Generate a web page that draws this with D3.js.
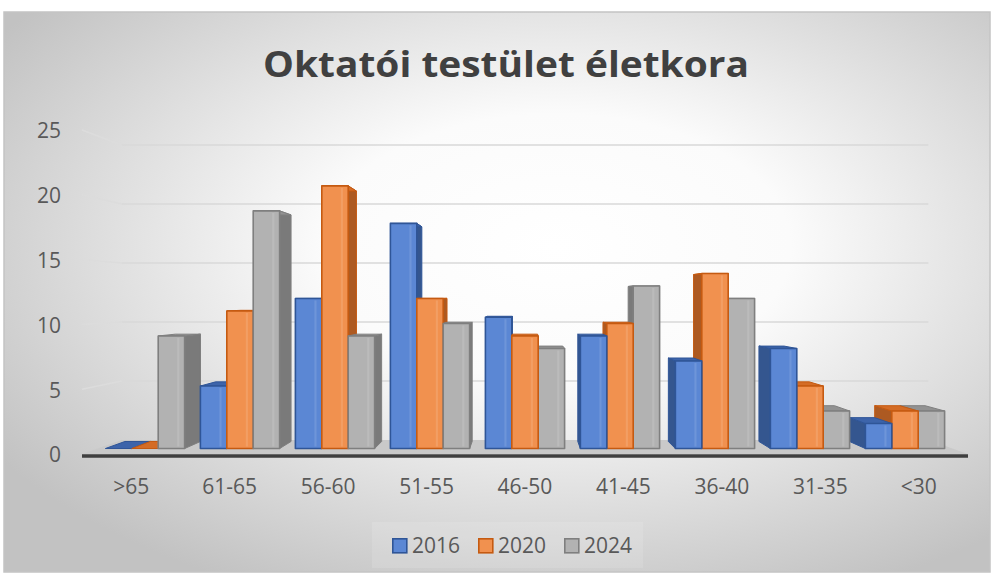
<!DOCTYPE html>
<html><head><meta charset="utf-8">
<script src="https://cdn.jsdelivr.net/npm/d3@7"></script>
<style>html,body{margin:0;padding:0;background:#fff;}svg{display:block;}</style>
</head><body>
<script>
const title = "Oktatói testület életkora";
const categories = [">65","61-65","56-60","51-55","46-50","41-45","36-40","31-35","<30"];
const seriesNames = ["2016","2020","2024"];
const values2016 = [0,5,12,18,10.5,9,7,8,2];
const values2020 = [0,11,21,12,9,10,14,5,3];
const values2024 = [9,19,9,10,8,13,12,3,3];
const yTicks = [0,5,10,15,20,25];

const seriesValues = [values2016, values2020, values2024];
const colors = [
  {front:"#5b87d4", stroke:"#2f5597", side:"#34568f", top:"#3d64aa"},
  {front:"#f1914f", stroke:"#c55a11", side:"#ad5a22", top:"#d46c26"},
  {front:"#b2b2b2", stroke:"#7f7f7f", side:"#7a7a7a", top:"#929292"}
];

const W = 995, H = 577;
const svg = d3.select("body").append("svg").attr("width", W).attr("height", H);
const defs = svg.append("defs");
const grad = defs.append("radialGradient").attr("id","bg")
  .attr("cx","56%").attr("cy","42%").attr("r","68%");
grad.append("stop").attr("offset","0%").attr("stop-color","#ffffff");
grad.append("stop").attr("offset","35%").attr("stop-color","#fbfbfb");
grad.append("stop").attr("offset","100%").attr("stop-color","#c2c2c2");

svg.append("rect").attr("x",4).attr("y",12).attr("width",986).attr("height",560)
  .attr("fill","url(#bg)").attr("stroke","#c4c4c4").attr("stroke-width",1.5);

// perspective model
const VP = [525, 297.4];
const S_FRONT = 1, S_BACK = 0.9105, S_BAR_F = 0.965, S_BAR_B = 0.92;
const proj = (X, Y, s) => [VP[0] + (X - VP[0]) * s, VP[1] + (Y - VP[1]) * s];

const yFront = d3.scaleLinear().domain([0,25]).range([454,130]);
const x0 = d3.scaleBand().domain(categories).range([82,968]).paddingInner(0.166).paddingOuter(0.083);
const x1 = d3.scaleBand().domain(seriesNames).range([0, x0.bandwidth()]);
const xFull = d3.scaleBand().domain(categories).range([82,968]);

// gridlines: back wall + side wall
const gGrid = svg.append("g");
yTicks.filter(v => v > 0).forEach(v => {
  const bl = proj(82, yFront(v), S_BACK), br = proj(968, yFront(v), S_BACK);
  const fl = proj(82, yFront(v), S_FRONT);
  gGrid.append("line").attr("x1",bl[0]).attr("y1",bl[1]).attr("x2",br[0]).attr("y2",br[1])
    .attr("stroke","#d9d9d9").attr("stroke-width",1.6);
  gGrid.append("line").attr("x1",fl[0]).attr("y1",fl[1]).attr("x2",bl[0]).attr("y2",bl[1])
    .attr("stroke","#dcdcdc").attr("stroke-width",1.4);
});

// floor
const fl0 = proj(82, yFront(0), S_FRONT), fr0 = proj(968, yFront(0), S_FRONT);
const bl0 = proj(82, yFront(0), S_BACK), br0 = proj(968, yFront(0), S_BACK);
svg.append("polygon").attr("points",[fl0,fr0,br0,bl0].map(p=>p.join(",")).join(" "))
  .attr("fill","#c9c9c9");
svg.append("line").attr("x1",fl0[0]).attr("x2",fr0[0]).attr("y1",456).attr("y2",456)
  .attr("stroke","#3f3f3f").attr("stroke-width",3.5);

// bars
const bars = [];
categories.forEach((c, i) => {
  seriesNames.forEach((s, j) => {
    const X0 = x0(c) + x1(s), X1 = X0 + x1.bandwidth();
    bars.push({c, s, j, v: seriesValues[j][i], X0, X1});
  });
});
bars.forEach(b => { b.dist = Math.abs((b.X0 + b.X1)/2 - VP[0]); });
bars.sort((a,b) => b.dist - a.dist);

const gBars = svg.append("g");
const pts = arr => arr.map(p => p[0].toFixed(2)+","+p[1].toFixed(2)).join(" ");
bars.forEach(b => {
  const col = colors[b.j];
  const Yt = yFront(b.v), Yb = yFront(0);
  const ftl = proj(b.X0, Yt, S_BAR_F), ftr = proj(b.X1, Yt, S_BAR_F);
  const fbl = proj(b.X0, Yb, S_BAR_F), fbr = proj(b.X1, Yb, S_BAR_F);
  const btl = proj(b.X0, Yt, S_BAR_B), btr = proj(b.X1, Yt, S_BAR_B);
  const bbl = proj(b.X0, Yb, S_BAR_B), bbr = proj(b.X1, Yb, S_BAR_B);
  const g = gBars.append("g");
  const leftOfVP = (b.X0 + b.X1)/2 < VP[0];
  const side = leftOfVP ? [ftr, btr, bbr, fbr] : [ftl, btl, bbl, fbl];
  g.append("polygon").attr("points", pts(side)).attr("fill", col.side)
    .attr("stroke", col.stroke).attr("stroke-width", 1).attr("stroke-linejoin","round");
  g.append("polygon").attr("points", pts([ftl, ftr, btr, btl])).attr("fill", col.top)
    .attr("stroke", col.stroke).attr("stroke-width", 1).attr("stroke-linejoin","round");
  if (b.v > 0) {
    g.append("polygon").attr("points", pts([ftl, ftr, fbr, fbl])).attr("fill", col.front)
      .attr("stroke", col.stroke).attr("stroke-width", 1.6).attr("stroke-linejoin","round");
    const w = ftr[0] - ftl[0];
    g.append("rect").attr("x", ftl[0] + w*0.72).attr("y", ftl[1] + 2)
      .attr("width", w*0.08).attr("height", Math.max(0, fbl[1] - ftl[1] - 4))
      .attr("fill", "#ffffff").attr("opacity", 0.12);
  }
});

// y axis labels
const fontFam = "'Open Sans', 'Noto Sans', sans-serif";
svg.append("g").selectAll("text").data(yTicks).join("text")
  .attr("x", 61).attr("y", d => yFront(d) + 8.3)
  .attr("text-anchor","end").attr("font-family", fontFam).attr("font-size", 21)
  .attr("fill","#595959").text(d => d);

// x axis labels
svg.append("g").selectAll("text").data(categories).join("text")
  .attr("x", d => xFull(d) + xFull.bandwidth()/2).attr("y", 494)
  .attr("text-anchor","middle").attr("font-family", fontFam).attr("font-size", 21)
  .attr("fill","#595959").text(d => d);

// title
svg.append("text").attr("x", 506).attr("y", 77).attr("text-anchor","middle")
  .attr("font-family", fontFam).attr("font-weight", 700).attr("font-size", 36)
  .attr("fill","#404040").attr("textLength", 486).attr("lengthAdjust","spacingAndGlyphs")
  .text(title);

// legend
svg.append("rect").attr("x",372).attr("y",522).attr("width",271).attr("height",46)
  .attr("fill","#ffffff").attr("opacity",0.12);
const leg = svg.append("g").selectAll("g").data(seriesNames).join("g")
  .attr("transform", (d,i) => `translate(${392 + i*86},538)`);
leg.append("rect").attr("x",0.8).attr("y",0.8).attr("width",14).attr("height",14)
  .attr("fill", (d,i) => colors[i].front).attr("stroke", (d,i) => colors[i].stroke).attr("stroke-width",1.6);
leg.append("text").attr("x", 20).attr("y", 14.5).attr("font-family", fontFam).attr("font-size", 21)
  .attr("fill","#595959").text(d => d);
</script>
</body></html>
